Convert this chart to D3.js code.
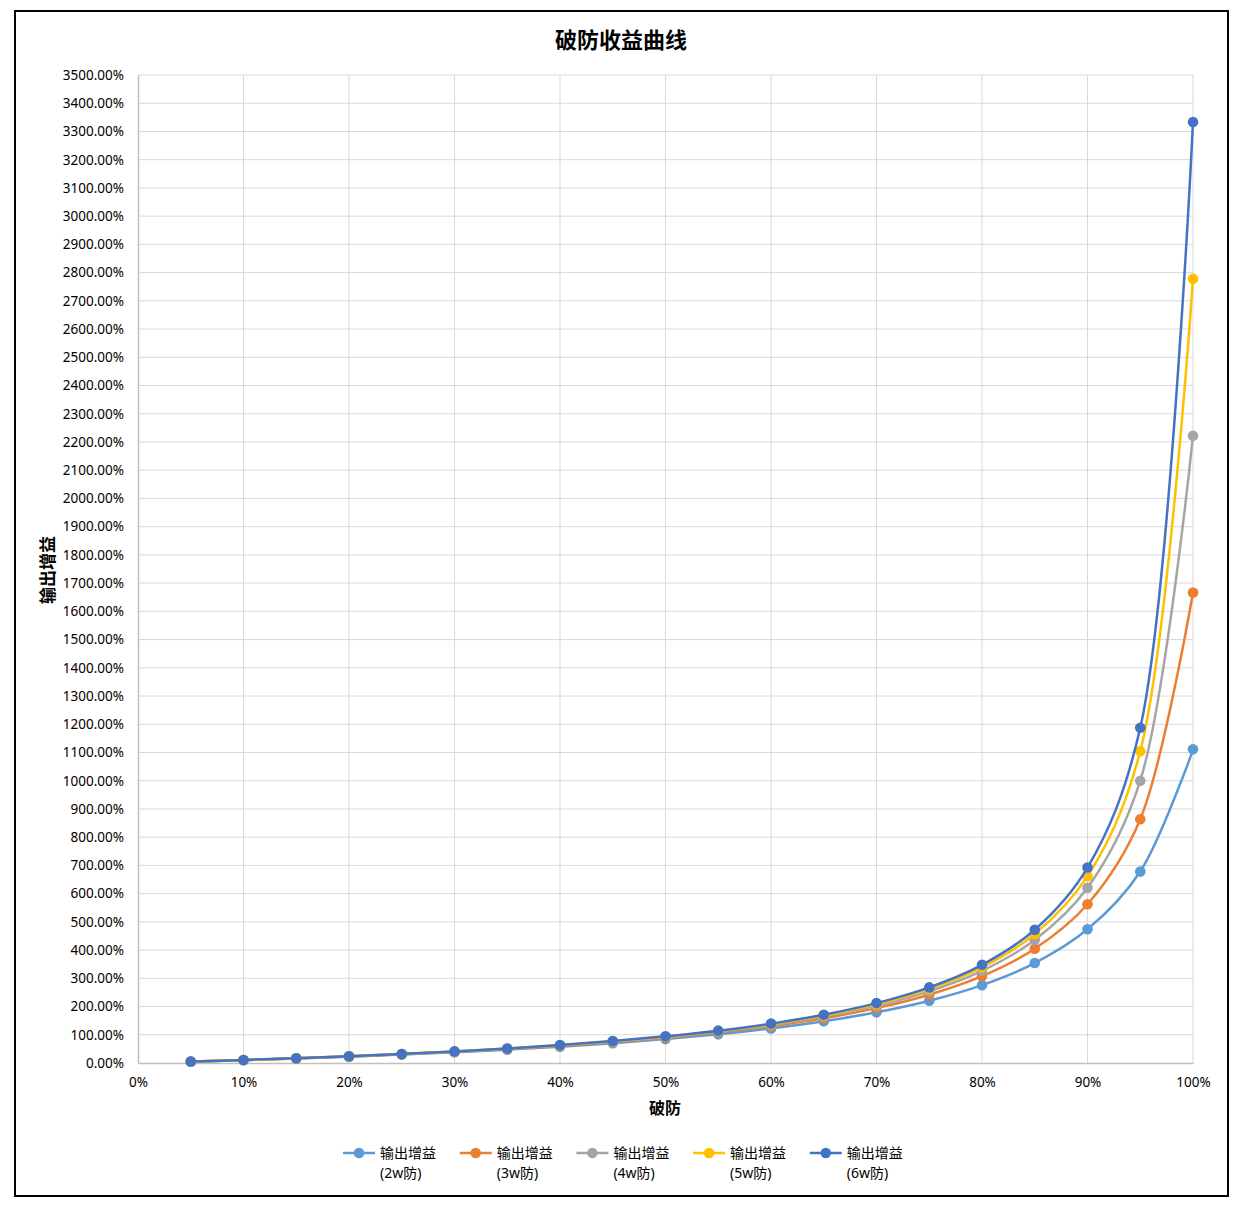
<!DOCTYPE html>
<html><head><meta charset="utf-8">
<script src="https://cdn.jsdelivr.net/npm/d3@7"></script>
<style>body{margin:0;background:#fff;} text{font-family:"Noto Sans","Noto Sans CJK SC",sans-serif;}</style>
</head><body>
<svg id="c" width="1249" height="1214"></svg>
<script>
const penetration = [0.05,0.10,0.15,0.20,0.25,0.30,0.35,0.40,0.45,0.50,0.55,0.60,0.65,0.70,0.75,0.80,0.85,0.90,0.95,1.00];
const gain2w = [4.81,10.10,15.96,22.47,29.76,37.97,47.30,57.97,70.31,84.75,101.85,122.45,147.73,179.49,220.59,275.86,354.17,473.68,678.57,1111.11];
const gain3w = [4.95,10.42,16.48,23.26,30.86,39.47,49.30,60.61,73.77,89.29,107.84,130.43,158.54,194.44,241.94,307.69,404.76,562.50,863.64,1666.67];
const gain4w = [5.03,10.58,16.76,23.67,31.45,40.27,50.36,62.02,75.63,91.74,111.11,134.83,164.56,202.90,254.24,326.53,435.90,620.69,1000.00,2222.22];
const gain5w = [5.07,10.68,16.93,23.92,31.81,40.76,51.02,62.89,76.79,93.28,113.17,137.61,168.39,208.33,262.24,338.98,456.99,661.76,1104.65,2777.78];
const gain6w = [5.10,10.75,17.05,24.10,32.05,41.10,51.47,63.49,77.59,94.34,114.58,139.53,171.05,212.12,267.86,347.83,472.22,692.31,1187.50,3333.33];
const seriesNames = ["输出增益\n(2w防)","输出增益\n(3w防)","输出增益\n(4w防)","输出增益\n(5w防)","输出增益\n(6w防)"];
const seriesColors = ["#5B9BD5","#ED7D31","#A5A5A5","#FFC000","#4472C4"];
const xTicks = [0,0.1,0.2,0.3,0.4,0.5,0.6,0.7,0.8,0.9,1.0];
const yTicks = d3.range(0,3501,100);

const allSeries = [gain2w,gain3w,gain4w,gain5w,gain6w];
const svg = d3.select("#c");
svg.append("rect").attr("x",15).attr("y",11).attr("width",1213).attr("height",1185)
  .attr("fill","#fff").attr("stroke","#000").attr("stroke-width",2);

const L=138,R=1193,T=75,B=1063;
const x = d3.scaleLinear().domain([0,1]).range([L,R]);
const y = d3.scaleLinear().domain([0,3500]).range([B,T]);

// grid
svg.append("g").selectAll("line").data(yTicks.slice(1)).join("line")
  .attr("x1",L).attr("x2",R).attr("y1",d=>y(d)).attr("y2",d=>y(d))
  .attr("stroke","#d9d9d9").attr("stroke-width",1);
svg.append("g").selectAll("line").data(xTicks.slice(1)).join("line")
  .attr("x1",d=>x(d)).attr("x2",d=>x(d)).attr("y1",T).attr("y2",B)
  .attr("stroke","#d9d9d9").attr("stroke-width",1);
// axes
const yAxis = svg.append("g").attr("transform",`translate(${L},0)`)
  .call(d3.axisLeft(y).tickValues(yTicks).tickSize(0).tickPadding(14).tickFormat(d=>d.toFixed(2)+"%"));
const xAxis = svg.append("g").attr("transform",`translate(0,${B})`)
  .call(d3.axisBottom(x).tickValues(xTicks).tickSize(0).tickPadding(14).tickFormat(d=>Math.round(d*100)+"%"));
[yAxis,xAxis].forEach(a=>{
  a.select(".domain").attr("stroke","#bfbfbf").attr("stroke-width",1.5);
  a.selectAll("text").attr("font-size",13.5).attr("fill","#000");
});

// lines
const line = d3.line().x((d,i)=>x(penetration[i])).y(d=>y(d)).curve(d3.curveCatmullRom.alpha(0.5));
allSeries.forEach((s,k)=>{
  const g = svg.append("g");
  g.append("path").attr("d",line(s)).attr("fill","none").attr("stroke",seriesColors[k]).attr("stroke-width",2.5);
  g.selectAll("circle").data(s).join("circle").attr("cx",(d,i)=>x(penetration[i])).attr("cy",d=>y(d))
    .attr("r",5.3).attr("fill",seriesColors[k]);
});

// titles
svg.append("text").attr("x",621).attr("y",48).attr("text-anchor","middle").attr("font-size",22)
  .attr("font-weight","bold").attr("font-family","Noto Sans CJK SC").text("破防收益曲线");
svg.append("text").attr("x",665).attr("y",1114).attr("text-anchor","middle").attr("font-size",16)
  .attr("font-weight","bold").attr("font-family","Noto Sans CJK SC").text("破防");
svg.append("text").attr("transform","translate(54,570) rotate(-90)").attr("text-anchor","middle").attr("font-size",17)
  .attr("font-weight","bold").attr("font-family","Noto Sans CJK SC").text("输出增益");

// legend
const lg = svg.append("g");
seriesNames.forEach((n,k)=>{
  const lx = 343 + k*116.7, ly = 1153;
  lg.append("line").attr("x1",lx).attr("x2",lx+32).attr("y1",ly).attr("y2",ly).attr("stroke",seriesColors[k]).attr("stroke-width",2.5);
  lg.append("circle").attr("cx",lx+16).attr("cy",ly).attr("r",5.3).attr("fill",seriesColors[k]);
  const parts = n.split("\n");
  lg.append("text").attr("x",lx+37).attr("y",ly+5).attr("font-size",14).attr("font-family","Noto Sans CJK SC").text(parts[0]);
  lg.append("text").attr("x",lx+37).attr("y",ly+25).attr("font-size",14).text(parts[1]);
});
</script>
</body></html>
